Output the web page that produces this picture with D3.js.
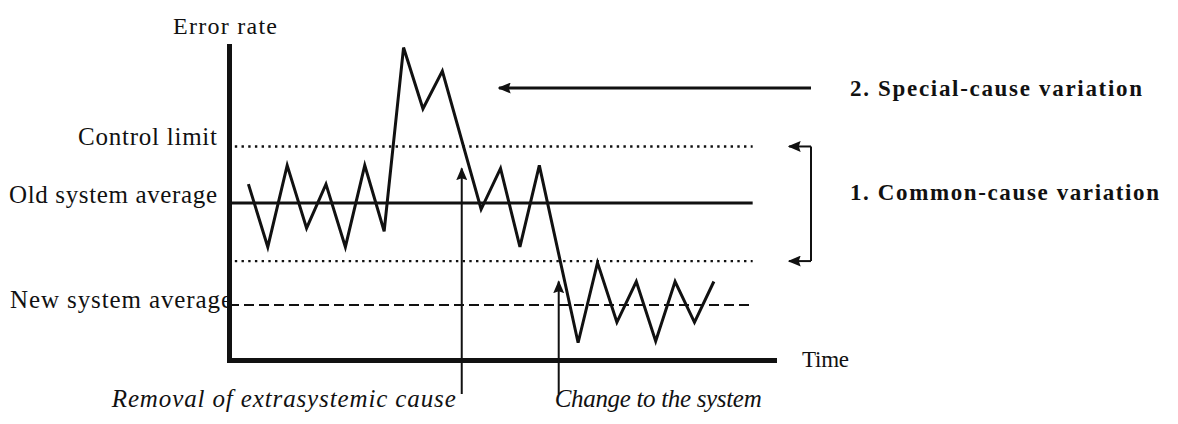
<!DOCTYPE html>
<html>
<head>
<meta charset="utf-8">
<script src="https://cdn.jsdelivr.net/npm/d3@7"></script>
<style>
  body { margin: 0; background: #fff; }
  text { font-family: "Liberation Serif", "Times New Roman", serif; fill: #111; }
</style>
</head>
<body>
<svg id="drawing_region"></svg>
<script>
// time steps and error rate readings of the process
const times = [0, 1, 2, 3, 4, 5, 6, 7, 8, 9, 10, 12, 13, 14, 15, 17, 18, 19, 20, 21, 22, 23, 24];
const errorRates = [56, 36, 62, 42, 56, 36, 62, 41, 99.5, 80, 92, 48, 61, 36, 62, 5.5, 31, 12, 25, 6, 25, 12, 25];

// horizontal reference levels (upper limit, old average, lower limit, new average)
const levelNames = ["Control limit", "Old system average", "", "New system average"];
const levelValues = [68, 50, 31.5, 17.5];

// events marked under the time axis
const eventTimes = [11, 16];
const eventTips = [61, 25];
const eventNames = ["Removal of extrasystemic cause", "Change to the system"];

const variationNames = ["2. Special-cause variation", "1. Common-cause variation"];

class ControlChart {

    constructor( config ) {
        this.config = config;
        this.init();
    }

    init() {
        let self = this;

        self.svg = d3.select( self.config.parent )
            .attr('width', self.config.width)
            .attr('height', self.config.height);

        self.xscale = d3.scaleLinear()
            .domain( [-1, 27.1] )
            .range( [229, 774] );

        self.yscale = d3.scaleLinear()
            .domain( [0, 100] )
            .range( [360, 46] );

        const defs = self.svg.append('defs');
        defs.append('marker')
            .attr('id', 'head')
            .attr('markerUnits', 'userSpaceOnUse')
            .attr('viewBox', '0 0 10 10')
            .attr('preserveAspectRatio', 'none')
            .attr('markerWidth', 13)
            .attr('markerHeight', 11)
            .attr('refX', 9)
            .attr('refY', 5)
            .attr('orient', 'auto')
            .append('path')
            .attr('d', 'M0,0L10,5L0,10L1.5,5Z')
            .attr('fill', '#111');
    }

    render() {
        let self = this;
        const x = self.xscale, y = self.yscale;
        const x0 = x(-1), xEnd = x(26);

        // reference levels
        const dash = ['2.4,4.3', null, '2.4,4.3', '10,5'];
        const width = [2.4, 3.2, 2.4, 2];
        const start = [x(-0.7), x0, x(-0.7), x0];
        self.svg.selectAll('.level')
            .data(levelValues)
            .join('line')
            .attr('class', 'level')
            .attr('x1', (d, i) => start[i])
            .attr('x2', xEnd)
            .attr('y1', d => y(d))
            .attr('y2', d => y(d))
            .attr('stroke', '#111')
            .attr('stroke-width', (d, i) => width[i])
            .attr('stroke-dasharray', (d, i) => dash[i]);

        // process line
        const line = d3.line()
            .x( (d, i) => x(times[i]) )
            .y( d => y(d) );

        self.svg.append('path')
            .attr('d', line(errorRates))
            .attr('fill', 'none')
            .attr('stroke', '#111')
            .attr('stroke-width', 3)
            .attr('stroke-linejoin', 'miter');

        // axes
        const xaxis = d3.axisBottom( x ).ticks(0).tickSizeOuter(0);
        const yaxis = d3.axisLeft( y ).ticks(0).tickSizeOuter(0);
        self.svg.append('g')
            .attr('transform', `translate(0, ${y(0)})`)
            .call( xaxis )
            .select('.domain')
            .attr('stroke', '#111')
            .attr('stroke-width', 5)
            .attr('stroke-linecap', 'square');
        self.svg.append('g')
            .attr('transform', `translate(${x0}, 0)`)
            .call( yaxis )
            .select('.domain')
            .attr('stroke', '#111')
            .attr('stroke-width', 5)
            .attr('stroke-linecap', 'square');

        // axis titles
        self.svg.append('text')
            .attr('x', 173).attr('y', 34)
            .attr('font-size', '24px')
            .attr('textLength', 104)
            .text('Error rate');
        self.svg.append('text')
            .attr('x', x(27.1) + 28).attr('y', y(0) + 7)
            .attr('font-size', '23px')
            .attr('textLength', 47)
            .text('Time');

        // level labels
        const labelX = [217, 217, 0, 232];
        const labelDy = [-1, 0, 0, 3];
        const labelLen = [139, 208, 0, 222];
        self.svg.selectAll('.levelLabel')
            .data(levelValues.filter((d, i) => levelNames[i] !== ''))
            .join('text')
            .attr('class', 'levelLabel')
            .attr('x', d => labelX[levelValues.indexOf(d)])
            .attr('y', d => y(d) + labelDy[levelValues.indexOf(d)])
            .attr('text-anchor', 'end')
            .attr('font-size', '25px')
            .attr('textLength', d => labelLen[levelValues.indexOf(d)])
            .text(d => levelNames[levelValues.indexOf(d)]);

        // event arrows and labels
        self.svg.selectAll('.event')
            .data(eventTimes)
            .join('line')
            .attr('class', 'event')
            .attr('x1', d => x(d)).attr('x2', d => x(d))
            .attr('y1', 394)
            .attr('y2', (d, i) => y(eventTips[i]))
            .attr('stroke', '#111')
            .attr('stroke-width', 2)
            .attr('marker-end', 'url(#head)');

        const evLen = [344, 207];
        self.svg.selectAll('.eventLabel')
            .data(eventTimes)
            .join('text')
            .attr('class', 'eventLabel')
            .attr('x', (d, i) => i === 0 ? x(d) - 6 : x(d) - 4)
            .attr('y', 407)
            .attr('text-anchor', (d, i) => i === 0 ? 'end' : 'start')
            .attr('font-size', '25px')
            .attr('font-style', 'italic')
            .attr('textLength', (d, i) => evLen[i])
            .text((d, i) => eventNames[i]);

        // special-cause arrow
        self.svg.append('line')
            .attr('x1', 811).attr('x2', 499)
            .attr('y1', 88).attr('y2', 88)
            .attr('stroke', '#111')
            .attr('stroke-width', 3)
            .attr('marker-end', 'url(#head)');

        // common-cause bracket
        const bx = 811;
        self.svg.append('path')
            .attr('d', `M${bx},${y(levelValues[0])}V${y(levelValues[2])}`)
            .attr('stroke', '#111')
            .attr('stroke-width', 2)
            .attr('fill', 'none');
        [levelValues[0], levelValues[2]].forEach(v => {
            self.svg.append('line')
                .attr('x1', bx).attr('x2', 789)
                .attr('y1', y(v)).attr('y2', y(v))
                .attr('stroke', '#111')
                .attr('stroke-width', 2)
                .attr('marker-end', 'url(#head)');
        });

        const varY = [96, 200];
        const varLen = [292, 309];
        self.svg.selectAll('.variation')
            .data(variationNames)
            .join('text')
            .attr('class', 'variation')
            .attr('x', 850)
            .attr('y', (d, i) => varY[i])
            .attr('font-size', '23px')
            .attr('font-weight', 700)
            .attr('textLength', (d, i) => varLen[i])
            .text(d => d);
    }
}

const chart = new ControlChart({ parent: '#drawing_region', width: 1178, height: 424 });
chart.render();
</script>
</body>
</html>
